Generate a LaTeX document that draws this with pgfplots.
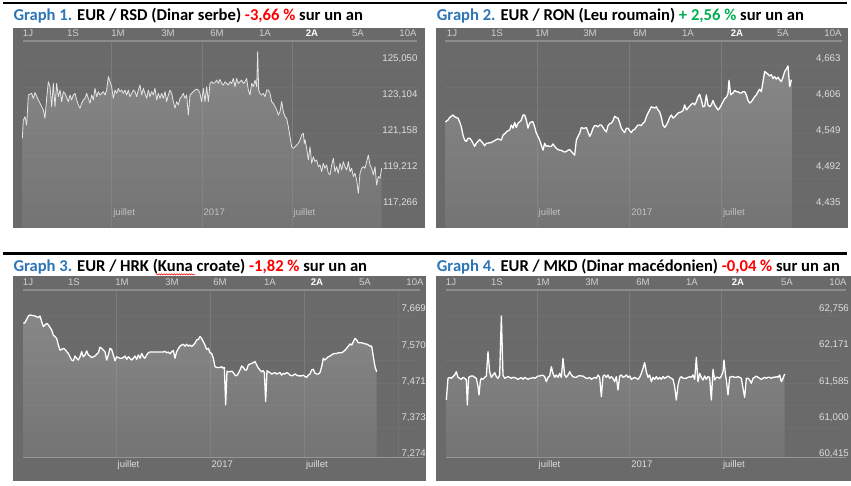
\documentclass[border=0pt]{standalone}
\usepackage{fontspec}
\setmainfont{Liberation Sans}
\newfontfamily\titlefont{Carlito}
\usepackage{pgfplots}
\pgfplotsset{compat=1.18}
\usepackage{pgfplotstable}
\usetikzlibrary{decorations.pathmorphing}

\definecolor{panel}{RGB}{106,106,106}
\definecolor{gridc}{RGB}{124,124,124}
\definecolor{dashc}{RGB}{116,116,116}
\definecolor{labc}{RGB}{222,222,222}
\definecolor{tabc}{RGB}{208,208,208}
\definecolor{divc}{RGB}{140,140,140}
\definecolor{basec}{RGB}{150,150,150}
\definecolor{ftop}{RGB}{190,190,190}
\definecolor{fbot}{RGB}{136,136,136}
\definecolor{gblue}{RGB}{46,117,182}
\definecolor{ggreen}{RGB}{0,176,80}
\definecolor{gred}{RGB}{255,0,0}

\pgfplotsset{ios/.style={scale only axis, axis line style={draw=none}, major tick length=0pt,
  tick style={draw=none}, xmajorgrids, ymajorgrids=false,
  major grid style={draw=gridc, line width=0.8pt},
  yticklabel pos=right,
  yticklabel style={font=\fontsize{9.7}{10}\selectfont, text=labc, anchor=base east, inner sep=0pt, yshift=-3.4pt},
  xticklabel style={font=\fontsize{9.5}{10}\selectfont, text=labc, anchor=base west, inner sep=0pt, xshift=1.5pt},
  xticklabels={juillet,2017,juillet}, clip=true},
  areafill/.style={draw=none, top color=ftop, bottom color=fbot, fill opacity=0.35}}

\pgfplotstableread[row sep=\\]{x y\\
4.4 120.71\\ 5 121.70\\ 6 121.88\\ 7 121.43\\ 8 123.06\\ 10 123.15\\ 11 122.88\\ 12 123.19\\ 14 122.79\\ 15 122.61\\ 16 122.43\\ 17 122.25\\ 18 121.79\\ 19 122.88\\ 20 123.78\\ 21 123.51\\ 22 122.43\\ 23 123.69\\ 24 122.43\\ 25 123.69\\ 26 122.97\\ 27 123.33\\ 28 122.70\\ 29 123.24\\ 30 123.15\\ 32 122.70\\ 33 123.06\\ 34 122.79\\ 35 123.06\\ 36 123.15\\ 37 122.79\\ 38 122.52\\ 39 122.34\\ 40 122.61\\ 41 122.79\\ 42 122.88\\ 43 123.15\\ 44 122.88\\ 45 122.61\\ 46 123.06\\ 47 122.79\\ 48 123.42\\ 49 122.97\\ 50 123.24\\ 51 123.06\\ 52 123.15\\ 53 123.24\\ 54 123.06\\ 55 123.33\\ 56 124.06\\ 57 123.78\\ 58 123.51\\ 59 122.88\\ 60 123.33\\ 61 123.15\\ 62 123.42\\ 63 123.24\\ 64 123.33\\ 65 123.15\\ 66 123.33\\ 67 123.06\\ 68 123.33\\ 69 122.97\\ 70 123.15\\ 71 123.33\\ 72 123.24\\ 73 122.97\\ 74 123.33\\ 75 123.60\\ 76 123.06\\ 77 123.42\\ 78 123.15\\ 79 122.88\\ 80 123.33\\ 81 122.97\\ 82 123.24\\ 83 123.06\\ 84 123.42\\ 85 122.79\\ 86 123.15\\ 87 122.88\\ 88 123.15\\ 89 122.88\\ 90 123.24\\ 91 122.70\\ 92 123.06\\ 93 123.33\\ 94 123.15\\ 95 122.70\\ 96 122.34\\ 97 122.70\\ 98 122.52\\ 99 122.88\\ 100 122.97\\ 101 123.15\\ 102 122.88\\ 103 123.06\\ 104 121.97\\ 105 123.06\\ 106 123.15\\ 107 123.24\\ 108 123.33\\ 109 123.37\\ 110 123.33\\ 111 123.15\\ 112 122.70\\ 113 123.42\\ 114 122.70\\ 115 123.51\\ 116 122.70\\ 117 123.69\\ 118 123.78\\ 119 123.69\\ 120 123.73\\ 121 123.87\\ 122 123.69\\ 123 123.91\\ 124 123.69\\ 125 123.60\\ 126 123.78\\ 127 123.69\\ 128 123.60\\ 129 123.78\\ 130 123.69\\ 131 123.96\\ 132 123.51\\ 133 123.96\\ 134 123.69\\ 135 123.78\\ 136 123.87\\ 137 123.69\\ 138 123.78\\ 139 123.96\\ 140 123.33\\ 141 123.06\\ 142 123.69\\ 143 123.51\\ 144 123.87\\ 145 123.51\\ 145.6 125.41\\ 146.2 123.33\\ 147 123.15\\ 148 123.06\\ 149 123.15\\ 150 122.97\\ 151 123.33\\ 152 123.33\\ 153 123.15\\ 154 122.70\\ 155 122.61\\ 156 122.43\\ 157 122.25\\ 158 121.97\\ 159 122.15\\ 160 122.70\\ 161 122.15\\ 162 121.88\\ 163 121.79\\ 164 121.34\\ 165 120.80\\ 166 120.25\\ 167 120.16\\ 168 120.25\\ 169 120.34\\ 170 120.44\\ 171 120.62\\ 172 120.89\\ 173 120.98\\ 173.6 120.44\\ 174 120.62\\ 175 120.16\\ 176 119.53\\ 177 120.25\\ 178 119.35\\ 179 119.71\\ 180 119.44\\ 181 119.53\\ 182 119.17\\ 183 119.26\\ 184 118.90\\ 185 119.35\\ 186 119.08\\ 187 119.26\\ 188 118.81\\ 189 118.72\\ 190 119.26\\ 191 119.62\\ 192 118.90\\ 193 119.17\\ 194 118.81\\ 195 119.35\\ 196 118.99\\ 197 119.44\\ 198 119.17\\ 199 118.99\\ 200 119.44\\ 201 118.90\\ 202 119.08\\ 203 118.63\\ 204 118.81\\ 205 118.44\\ 206 117.72\\ 207 118.81\\ 208 119.08\\ 209 119.17\\ 210 119.08\\ 211 119.44\\ 212 119.80\\ 213 119.26\\ 214 119.08\\ 215 118.72\\ 216 119.17\\ 217 118.17\\ 218 118.63\\ 219 118.54\\ 220 119.08\\
}\tRSD

\pgfplotstableread[row sep=\\]{x y\\
4.4 4.562\\ 6 4.565\\ 7 4.569\\ 9 4.573\\ 10 4.570\\ 11 4.569\\ 12 4.568\\ 13 4.562\\ 14 4.554\\ 15 4.541\\ 16 4.533\\ 17 4.531\\ 18 4.536\\ 19 4.536\\ 20 4.533\\ 21 4.528\\ 22 4.523\\ 23 4.528\\ 24 4.531\\ 25 4.534\\ 26 4.531\\ 27 4.528\\ 28 4.524\\ 29 4.528\\ 30 4.528\\ 31 4.529\\ 32 4.529\\ 33 4.531\\ 34 4.532\\ 35 4.534\\ 36 4.535\\ 37 4.534\\ 38 4.533\\ 39 4.541\\ 40 4.543\\ 41 4.546\\ 42 4.548\\ 43 4.549\\ 44 4.557\\ 45 4.552\\ 46 4.561\\ 47 4.553\\ 48 4.560\\ 49 4.562\\ 50 4.565\\ 51 4.573\\ 52 4.573\\ 53 4.565\\ 54 4.552\\ 55 4.560\\ 56 4.562\\ 57 4.562\\ 58 4.554\\ 59 4.544\\ 60 4.539\\ 61 4.533\\ 62 4.525\\ 63 4.517\\ 64 4.528\\ 65 4.523\\ 66 4.524\\ 67 4.523\\ 68 4.523\\ 69 4.527\\ 70 4.523\\ 71 4.520\\ 72 4.518\\ 73 4.517\\ 74 4.517\\ 75 4.515\\ 76 4.514\\ 77 4.515\\ 78 4.517\\ 79 4.518\\ 80 4.515\\ 81 4.512\\ 82 4.509\\ 83 4.533\\ 84 4.539\\ 85 4.544\\ 86 4.553\\ 87 4.552\\ 88 4.552\\ 89 4.553\\ 90 4.546\\ 91 4.539\\ 92 4.544\\ 93 4.552\\ 94 4.556\\ 95 4.556\\ 96 4.554\\ 97 4.557\\ 98 4.557\\ 99 4.553\\ 100 4.549\\ 101 4.546\\ 102 4.556\\ 103 4.559\\ 104 4.560\\ 105 4.564\\ 106 4.571\\ 107 4.569\\ 108 4.568\\ 109 4.561\\ 110 4.552\\ 111 4.548\\ 112 4.545\\ 113 4.552\\ 114 4.552\\ 115 4.548\\ 116 4.545\\ 117 4.549\\ 118 4.550\\ 119 4.554\\ 120 4.557\\ 121 4.557\\ 122 4.556\\ 123 4.560\\ 124 4.562\\ 125 4.570\\ 126 4.576\\ 127 4.581\\ 128 4.586\\ 129 4.585\\ 130 4.584\\ 131 4.586\\ 132 4.581\\ 133 4.578\\ 134 4.569\\ 135 4.557\\ 136 4.553\\ 137 4.557\\ 138 4.562\\ 139 4.569\\ 140 4.573\\ 141 4.568\\ 142 4.570\\ 143 4.573\\ 144 4.576\\ 145 4.577\\ 146 4.578\\ 147 4.580\\ 148 4.589\\ 149 4.581\\ 150 4.584\\ 151 4.587\\ 152 4.590\\ 153 4.592\\ 154 4.589\\ 155 4.594\\ 156 4.602\\ 157 4.606\\ 158 4.597\\ 159 4.586\\ 160 4.587\\ 161 4.605\\ 162 4.589\\ 163 4.586\\ 164 4.589\\ 165 4.596\\ 166 4.589\\ 167 4.585\\ 168 4.581\\ 169 4.584\\ 170 4.589\\ 171 4.594\\ 172 4.599\\ 173 4.601\\ 174 4.607\\ 174.6 4.628\\ 175.6 4.605\\ 177 4.608\\ 178 4.612\\ 179 4.610\\ 180 4.610\\ 181 4.608\\ 182 4.608\\ 183 4.610\\ 184 4.610\\ 185 4.605\\ 186 4.596\\ 187 4.592\\ 188 4.594\\ 189 4.598\\ 190 4.602\\ 191 4.605\\ 192 4.610\\ 193 4.614\\ 194 4.610\\ 195 4.626\\ 196 4.642\\ 197 4.640\\ 198 4.638\\ 199 4.635\\ 200 4.637\\ 201 4.631\\ 202 4.634\\ 203 4.630\\ 204 4.633\\ 205 4.629\\ 206 4.626\\ 207 4.633\\ 208 4.642\\ 209 4.646\\ 210 4.651\\ 211 4.618\\ 212 4.629\\
}\tRON

\pgfplotstableread[row sep=\\]{x y\\
5 7.628\\ 6 7.630\\ 7 7.639\\ 8 7.648\\ 9 7.651\\ 10 7.650\\ 11 7.649\\ 12 7.648\\ 13 7.646\\ 14 7.644\\ 15 7.648\\ 16 7.633\\ 17 7.619\\ 18 7.624\\ 19 7.628\\ 20 7.624\\ 21 7.617\\ 22 7.610\\ 23 7.596\\ 24 7.592\\ 25 7.587\\ 26 7.569\\ 27 7.555\\ 28 7.557\\ 29 7.560\\ 30 7.557\\ 31 7.551\\ 32 7.546\\ 33 7.537\\ 34 7.528\\ 35 7.526\\ 36 7.539\\ 37 7.533\\ 38 7.528\\ 39 7.537\\ 40 7.551\\ 41 7.537\\ 42 7.542\\ 43 7.553\\ 44 7.542\\ 45 7.539\\ 46 7.535\\ 47 7.537\\ 48 7.539\\ 49 7.544\\ 50 7.548\\ 51 7.563\\ 52 7.560\\ 53 7.555\\ 54 7.551\\ 55 7.528\\ 56 7.542\\ 57 7.560\\ 58 7.557\\ 59 7.542\\ 60 7.526\\ 61 7.537\\ 62 7.535\\ 63 7.533\\ 64 7.533\\ 65 7.535\\ 66 7.539\\ 67 7.530\\ 68 7.537\\ 69 7.533\\ 70 7.528\\ 71 7.533\\ 72 7.539\\ 73 7.530\\ 74 7.542\\ 75 7.533\\ 76 7.546\\ 77 7.537\\ 78 7.533\\ 79 7.542\\ 80 7.548\\ 81 7.550\\ 82 7.550\\ 83 7.550\\ 84 7.550\\ 85 7.550\\ 86 7.550\\ 87 7.550\\ 88 7.550\\ 89 7.550\\ 90 7.552\\ 91 7.548\\ 92 7.550\\ 93 7.545\\ 94 7.551\\ 95 7.554\\ 96 7.533\\ 97 7.551\\ 98 7.559\\ 99 7.566\\ 100 7.569\\ 101 7.571\\ 102 7.566\\ 103 7.571\\ 104 7.566\\ 105 7.569\\ 106 7.565\\ 107 7.569\\ 108 7.574\\ 109 7.583\\ 110 7.584\\ 111 7.592\\ 112 7.587\\ 113 7.578\\ 114 7.569\\ 115 7.557\\ 116 7.560\\ 117 7.548\\ 118 7.546\\ 119 7.533\\ 120 7.510\\ 121 7.508\\ 122 7.508\\ 123 7.508\\ 124 7.510\\ 125 7.506\\ 125.6 7.508\\ 126.4 7.406\\ 127.2 7.498\\ 128 7.496\\ 129 7.496\\ 130 7.498\\ 131 7.494\\ 132 7.487\\ 133 7.485\\ 134 7.492\\ 135 7.501\\ 136 7.512\\ 137 7.508\\ 138 7.501\\ 139 7.501\\ 140 7.515\\ 141 7.517\\ 142 7.519\\ 143 7.521\\ 144 7.524\\ 145 7.515\\ 146 7.506\\ 147 7.501\\ 148 7.496\\ 149 7.499\\ 149.6 7.494\\ 150.4 7.415\\ 151.2 7.499\\ 152 7.496\\ 153 7.494\\ 154 7.490\\ 155 7.492\\ 156 7.494\\ 157 7.490\\ 158 7.492\\ 159 7.494\\ 160 7.487\\ 161 7.492\\ 162 7.490\\ 163 7.494\\ 164 7.492\\ 165 7.487\\ 166 7.485\\ 167 7.487\\ 168 7.490\\ 169 7.487\\ 170 7.485\\ 171 7.485\\ 172 7.485\\ 173 7.487\\ 174 7.483\\ 175 7.481\\ 176 7.487\\ 177 7.490\\ 178 7.501\\ 179 7.503\\ 180 7.492\\ 181 7.490\\ 182 7.490\\ 183 7.494\\ 184 7.510\\ 185 7.533\\ 186 7.528\\ 187 7.533\\ 188 7.537\\ 189 7.539\\ 190 7.542\\ 191 7.545\\ 192 7.546\\ 193 7.546\\ 194 7.548\\ 195 7.548\\ 196 7.548\\ 197 7.551\\ 198 7.555\\ 199 7.560\\ 200 7.566\\ 201 7.572\\ 202 7.569\\ 203 7.578\\ 204 7.587\\ 205 7.583\\ 206 7.575\\ 207 7.575\\ 208 7.575\\ 209 7.574\\ 210 7.572\\ 211 7.572\\ 212 7.569\\ 213 7.566\\ 214 7.566\\ 215 7.537\\ 216 7.510\\ 217 7.496\\
}\tHRK

\pgfplotstableread[row sep=\\]{x y\\
5 61.276\\ 6 61.626\\ 7 61.642\\ 8 61.626\\ 9 61.653\\ 10 61.680\\ 11 61.733\\ 12 61.642\\ 13 61.626\\ 14 61.610\\ 15 61.642\\ 16 61.626\\ 17 61.599\\ 17.6 61.195\\ 18.4 61.642\\ 19 61.653\\ 20 61.663\\ 21 61.663\\ 22 61.642\\ 23 61.626\\ 24 61.491\\ 24.6 61.357\\ 25.4 61.588\\ 26 61.626\\ 27 61.610\\ 28 61.642\\ 29 61.663\\ 30 62.056\\ 31 61.733\\ 32 61.642\\ 33 61.680\\ 34 61.717\\ 35 61.653\\ 36 61.626\\ 37 61.680\\ 38 62.632\\ 39 61.680\\ 40 61.626\\ 41 61.642\\ 42 61.653\\ 43 61.642\\ 44 61.626\\ 45 61.642\\ 46 61.637\\ 47 61.626\\ 48 61.610\\ 49 61.626\\ 50 61.637\\ 51 61.610\\ 52 61.642\\ 53 61.626\\ 54 61.610\\ 55 61.626\\ 56 61.626\\ 57 61.642\\ 58 61.626\\ 59 61.642\\ 60 61.663\\ 61 61.663\\ 62 61.674\\ 63 61.674\\ 64 61.653\\ 65 61.572\\ 66 61.642\\ 67 61.663\\ 68 61.814\\ 69 61.706\\ 70 61.642\\ 71 61.680\\ 72 61.642\\ 73 61.706\\ 74 61.642\\ 75 61.949\\ 76 61.680\\ 77 61.642\\ 78 61.680\\ 79 61.733\\ 80 61.680\\ 81 61.653\\ 82 61.642\\ 83 61.642\\ 84 61.663\\ 85 61.669\\ 86 61.663\\ 87 61.663\\ 88 61.642\\ 89 61.626\\ 90 61.626\\ 91 61.642\\ 92 61.610\\ 93 61.626\\ 94 61.642\\ 95 61.626\\ 96 61.680\\ 97 61.642\\ 98 61.330\\ 99 61.663\\ 100 61.680\\ 101 61.642\\ 102 61.680\\ 103 61.626\\ 104 61.653\\ 105 61.626\\ 106 61.572\\ 107 61.653\\ 108 61.437\\ 109 61.663\\ 110 61.680\\ 111 61.642\\ 112 61.653\\ 113 61.680\\ 114 61.642\\ 115 61.663\\ 116 61.610\\ 117 61.626\\ 118 61.642\\ 119 61.626\\ 120 61.610\\ 121 61.642\\ 122 61.706\\ 123 61.787\\ 124 61.879\\ 125 61.733\\ 126 61.642\\ 127 61.680\\ 128 61.572\\ 129 61.642\\ 130 61.610\\ 131 61.653\\ 132 61.610\\ 133 61.642\\ 134 61.610\\ 135 61.653\\ 136 61.626\\ 137 61.642\\ 138 61.663\\ 139 61.642\\ 140 61.626\\ 141 61.610\\ 142 61.491\\ 143 61.276\\ 144 61.518\\ 145 61.626\\ 146 61.653\\ 147 61.626\\ 148 61.626\\ 149 61.626\\ 150 61.642\\ 151 61.653\\ 152 61.642\\ 153 61.680\\ 154 61.610\\ 155 61.965\\ 156 61.572\\ 157 61.706\\ 158 61.642\\ 159 61.599\\ 160 61.663\\ 161 61.610\\ 162 61.653\\ 163 61.642\\ 164 61.276\\ 165 61.771\\ 166 61.599\\ 167 61.642\\ 168 61.642\\ 169 61.626\\ 170 61.663\\ 171 61.733\\ 171.6 61.922\\ 172.4 61.706\\ 173 61.599\\ 174 61.357\\ 175 61.642\\ 176 61.653\\ 177 61.653\\ 178 61.642\\ 179 61.642\\ 180 61.653\\ 181 61.642\\ 182 61.626\\ 183 61.464\\ 184 61.319\\ 185 61.626\\ 186 61.626\\ 187 61.599\\ 188 61.545\\ 189 61.626\\ 190 61.642\\ 191 61.663\\ 192 61.642\\ 193 61.626\\ 194 61.610\\ 195 61.626\\ 196 61.642\\ 197 61.626\\ 198 61.642\\ 199 61.642\\ 200 61.626\\ 201 61.642\\ 202 61.642\\ 203 61.653\\ 204 61.642\\ 205 61.680\\ 206 61.572\\ 207 61.626\\ 208 61.696\\
}\tMKD

\newcommand\tfont{\titlefont\bfseries\fontsize{16.6}{18}\selectfont}
\newcommand\tabfont{\fontsize{9.6}{10}\selectfont}

\begin{document}
\begin{tikzpicture}[x=1pt,y=1pt]
\fill[white] (0,0) rectangle (851,485);
% black rules
\fill[black] (3,480.5) rectangle (847,483);
\fill[black] (3,230) rectangle (847,232.5);
% titles
\node[anchor=base west, inner sep=0pt, font=\tfont] at (13.3,464.3) {\textcolor{gblue}{Graph 1.} EUR / RSD (Dinar serbe) \textcolor{gred}{-3,66 \%} sur un an};
\node[anchor=base west, inner sep=0pt, font=\tfont] at (436.7,464.3) {\textcolor{gblue}{Graph 2.} EUR / RON (Leu roumain) \textcolor{ggreen}{+ 2,56 \%} sur un an};
\node[anchor=base west, inner sep=0pt, font=\tfont] at (13.3,213.3) {\textcolor{gblue}{Graph 3.} EUR / HRK (Kuna croate) \textcolor{gred}{-1,82 \%} sur un an};
\node[anchor=base west, inner sep=0pt, font=\tfont] at (436.7,213.3) {\textcolor{gblue}{Graph 4.} EUR / MKD (Dinar macédonien) \textcolor{gred}{-0,04 \%} sur un an};
\draw[gred, line width=0.5pt, decorate, decoration={snake, amplitude=0.6pt, segment length=2.5pt}] (156,210.6) -- (195,210.6);
% panels
\fill[panel] (13,257) rectangle (425,457);
\fill[panel] (436,257) rectangle (848,457);
\fill[panel] (13,4) rectangle (426,209);
\fill[panel] (436,4) rectangle (851,209);
% tabs
\foreach \t/\x in {1J/28,1S/73,1M/118,3M/168,6M/217,1A/265,5A/358,10A/408}
  \node[anchor=base, inner sep=0pt, text=tabc, font=\tabfont] at (\x,448.3) {\t};
\node[anchor=base, inner sep=0pt, text=white, font=\tabfont\bfseries] at (312,448.3) {2A};
\foreach \t/\x in {1J/452,1S/497,1M/542,3M/590,6M/640,1A/688,5A/783,10A/833}
  \node[anchor=base, inner sep=0pt, text=tabc, font=\tabfont] at (\x,448.3) {\t};
\node[anchor=base, inner sep=0pt, text=white, font=\tabfont\bfseries] at (737,448.3) {2A};
\foreach \t/\x in {1J/28,1S/74,1M/122,3M/172,6M/220,1A/270,5A/365,10A/415}
  \node[anchor=base, inner sep=0pt, text=tabc, font=\tabfont] at (\x,199) {\t};
\node[anchor=base, inner sep=0pt, text=white, font=\tabfont\bfseries] at (317,199) {2A};
\foreach \t/\x in {1J/451,1S/497,1M/543,3M/592,6M/643,1A/692,5A/787,10A/838}
  \node[anchor=base, inner sep=0pt, text=tabc, font=\tabfont] at (\x,199) {\t};
\node[anchor=base, inner sep=0pt, text=white, font=\tabfont\bfseries] at (738,199) {2A};
% faint dashed grid
\foreach \p in {65,87.7,110.3,133,155.7,178.3,201} {
  \draw[dashc, line width=0.5pt, dash pattern=on 2pt off 2pt] (23,485-\p) -- (417,485-\p);
  \draw[dashc, line width=0.5pt, dash pattern=on 2pt off 2pt] (446,485-\p) -- (842,485-\p);}
\foreach \p in {315,337.7,360.3,383,405.7,428.3} {
  \draw[dashc, line width=0.5pt, dash pattern=on 2pt off 2pt] (23,485-\p) -- (420,485-\p);
  \draw[dashc, line width=0.5pt, dash pattern=on 2pt off 2pt] (446,485-\p) -- (846,485-\p);}
\draw[dashc, line width=0.7pt] (398,195) -- (398,27.5);

% ---- Graph 1
\begin{axis}[ios, at={(22pt,257pt)}, anchor=south west, width=403pt, height=187pt,
  xmin=4.2, xmax=246, ymin=115.838, ymax=125.992,
  xtick={58,112.2,166.2}, xticklabel style={yshift=12.7pt},
  ytick={117.266,119.212,121.158,123.104,125.050},
  yticklabels={{117,266},{119,212},{121,158},{123,104},{125,050}},
  yticklabel style={xshift=-7.3pt}]
\addplot[areafill] table {\tRSD} \closedcycle;
\addplot[white!90!black, line width=0.8pt, line join=round] table {\tRSD};
\end{axis}
% ---- Graph 2
\begin{axis}[ios, at={(445pt,257pt)}, anchor=south west, width=403pt, height=187pt,
  xmin=4.2, xmax=246, ymin=4.3933, ymax=4.6906,
  xtick={59.4,115,170}, xticklabel style={yshift=12.7pt},
  ytick={4.435,4.492,4.549,4.606,4.663},
  yticklabels={{4,435},{4,492},{4,549},{4,606},{4,663}},
  yticklabel style={xshift=-7.3pt}]
\addplot[areafill] table {\tRON} \closedcycle;
\addplot[white, line width=1.3pt, line join=round] table {\tRON};
\end{axis}
% ---- Graph 3
\begin{axis}[ios, at={(22pt,27.5pt)}, anchor=south west, width=404pt, height=167.5pt,
  xmin=4.2, xmax=246.6, ymin=7.2626, ymax=7.7189,
  xtick={60.6,117,173.6}, xticklabel style={yshift=-9.5pt},
  ytick={7.274,7.373,7.471,7.570,7.669},
  yticklabels={{7,274},{7,373},{7,471},{7,570},{7,669}},
  yticklabel style={xshift=0pt}]
\addplot[areafill] table {\tHRK} \closedcycle;
\addplot[white, line width=1.3pt, line join=round] table {\tHRK};
\end{axis}
% ---- Graph 4
\begin{axis}[ios, at={(445pt,27.5pt)}, anchor=south west, width=404pt, height=167.5pt,
  xmin=4.2, xmax=246.6, ymin=60.3475, ymax=63.052,
  xtick={59.4,115,170}, xticklabel style={yshift=-9.5pt},
  ytick={60.415,61.000,61.585,62.171,62.756},
  yticklabels={{60,415},{61,000},{61,585},{62,171},{62,756}},
  yticklabel style={xshift=0pt}]
\addplot[areafill] table {\tMKD} \closedcycle;
\addplot[white, line width=1.3pt, line join=round] table {\tMKD};
\end{axis}
% dividers and baselines
\draw[divc, line width=1.2pt] (23,444) -- (417,444);
\draw[divc, line width=1.2pt] (445,444) -- (842,444);
\draw[divc, line width=1.2pt] (23,195) -- (420,195);
\draw[divc, line width=1.2pt] (446,195) -- (846,195);
\draw[basec, line width=1.5pt] (23,27.5) -- (424,27.5);
\draw[basec, line width=1.5pt] (446,27.5) -- (846,27.5);
\end{tikzpicture}
\end{document}
